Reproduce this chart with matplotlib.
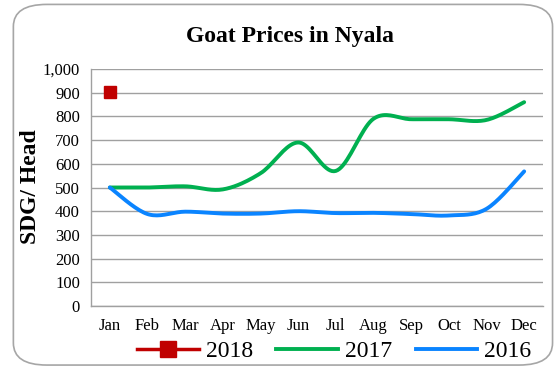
import matplotlib
matplotlib.use("Agg")
import matplotlib.pyplot as plt
from matplotlib.patches import FancyBboxPatch
from matplotlib.lines import Line2D
import numpy as np

months = ['Jan', 'Feb', 'Mar', 'Apr', 'May', 'Jun',
          'Jul', 'Aug', 'Sep', 'Oct', 'Nov', 'Dec']
prices_2018 = [905]
prices_2017 = [500, 500, 505, 492, 560, 690, 570, 790, 788, 788, 785, 860]
prices_2016 = [500, 388, 398, 390, 390, 400, 392, 393, 388, 382, 410, 568]
yticks = [0, 100, 200, 300, 400, 500, 600, 700, 800, 900, 1000]

plt.rcParams['font.family'] = ['Liberation Serif', 'DejaVu Serif']


def smooth(x, y, n=20):
    # catmull-rom curve through the points, like a spreadsheet "smoothed line"
    x = np.asarray(x, float)
    y = np.asarray(y, float)
    px = np.concatenate([[x[0]], x, [x[-1]]])
    py = np.concatenate([[y[0]], y, [y[-1]]])
    xs, ys = [], []
    for i in range(1, len(px) - 2):
        t = np.linspace(0, 1, n, endpoint=False)
        for p, out in ((px, xs), (py, ys)):
            p0, p1, p2, p3 = p[i - 1], p[i], p[i + 1], p[i + 2]
            out.extend(0.5 * ((2 * p1) + (-p0 + p2) * t
                              + (2 * p0 - 5 * p1 + 4 * p2 - p3) * t ** 2
                              + (-p0 + 3 * p1 - 3 * p2 + p3) * t ** 3))
    xs.append(x[-1])
    ys.append(y[-1])
    return xs, ys


fig = plt.figure(figsize=(5.57, 3.68), dpi=100)

# rounded frame around the whole chart
frame = FancyBboxPatch((0.024, 0.008), 0.968, 0.98,
                       boxstyle="round,pad=0,rounding_size=0.06",
                       transform=fig.transFigure, facecolor='white',
                       edgecolor='#a6a6a6', linewidth=1.2, zorder=-5)
fig.patches.append(frame)

ax = fig.add_axes([91 / 557, 1 - 306 / 368, 452 / 557, 237 / 368])
ax.set_zorder(2)
ax.set_facecolor('none')

x = np.arange(len(months))
green = '#00b050'
blue = '#0a84ff'
red = '#c00000'

gx, gy = smooth(x, prices_2017)
ax.plot(gx, gy, color=green, lw=2.8, solid_capstyle='round', zorder=3)
bx, by = smooth(x, prices_2016)
ax.plot(bx, by, color=blue, lw=2.8, solid_capstyle='round', zorder=3)
ax.plot(x[:len(prices_2018)], prices_2018, color=red, marker='s',
        markersize=9, linestyle='none', zorder=4)

ax.set_xlim(-0.5, 11.5)
ax.set_ylim(0, 1000)
ax.set_yticks(yticks)
ax.set_yticklabels([f'{v:,}' for v in yticks], fontsize=12)
ax.set_xticks(x)
ax.set_xticklabels(months, fontsize=12)
ax.tick_params(length=0, pad=8)
ax.tick_params(axis='x', pad=9)
ax.grid(axis='y', color='#a0a0a0', linewidth=1)
ax.set_axisbelow(True)
for side in ('top', 'right'):
    ax.spines[side].set_visible(False)
for side in ('left', 'bottom'):
    ax.spines[side].set_color('#a0a0a0')
    ax.spines[side].set_linewidth(1)

fig.text(30 / 557, 1 - 187 / 368, 'SDG/ Head', fontsize=17,
         fontweight='bold', rotation=90, ha='center', va='center')
fig.text(0.52, 0.90, 'Goat Prices in Nyala', fontsize=17, fontweight='bold',
         ha='center', va='center')

handles = [
    Line2D([], [], color=red, lw=2.5, marker='s', markersize=11),
    Line2D([], [], color=green, lw=2.8),
    Line2D([], [], color=blue, lw=2.8),
]
fig.legend(handles, ['2018', '2017', '2016'], loc='center',
           bbox_to_anchor=(0.6, 0.045), ncol=3, frameon=False, fontsize=17,
           handlelength=2.6, columnspacing=1.0, handletextpad=0.3)

fig.savefig('out.png', dpi=100)
